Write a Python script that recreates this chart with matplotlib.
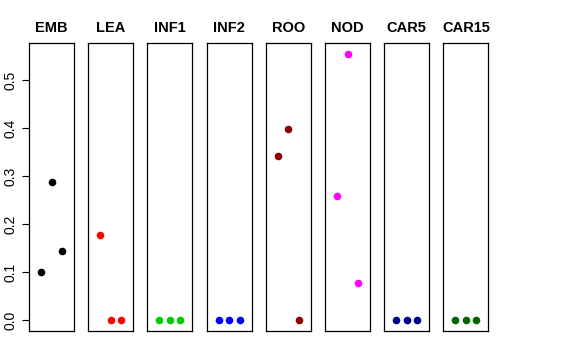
import matplotlib
matplotlib.use("Agg")
import matplotlib.pyplot as plt

plt.rcParams['font.family'] = ['Liberation Sans', 'DejaVu Sans']

tissues = ['EMB', 'LEA', 'INF1', 'INF2', 'ROO', 'NOD', 'CAR5', 'CAR15']
colors = ['black', 'red', '#00CD00', 'blue', '#8B0000', 'magenta', '#00008B', '#006400']
values = {
    'EMB':   [0.100, 0.287, 0.145],
    'LEA':   [0.177, 0.0, 0.0],
    'INF1':  [0.0, 0.0, 0.0],
    'INF2':  [0.0, 0.0, 0.0],
    'ROO':   [0.343, 0.399, 0.0],
    'NOD':   [0.259, 0.555, 0.077],
    'CAR5':  [0.0, 0.0, 0.0],
    'CAR15': [0.0, 0.0, 0.0],
}
reps = [1, 2, 3]
yticks = [0.0, 0.1, 0.2, 0.3, 0.4, 0.5]

W, H = 576, 360
fig = plt.figure(figsize=(W / 100, H / 100), dpi=100)

left0 = 29
pw = 45
step = 59.2
top = 43
bottom = 331
ymax = 0.555
pad = 0.04 * ymax

for i, (t, c) in enumerate(zip(tissues, colors)):
    x0 = left0 + i * step
    ax = fig.add_axes([x0 / W, (H - bottom) / H, pw / W, (bottom - top) / H])
    ax.scatter(reps, values[t], s=30, color=c, zorder=3, linewidths=0)
    ax.set_xlim(-0.16, 4.16)
    ax.set_ylim(-pad, ymax + pad)
    ax.set_xticks([])
    for sp in ax.spines.values():
        sp.set_linewidth(0.9)
        sp.set_color('black')
    ax.set_title(t, fontsize=10.5, fontweight='bold', pad=8)
    if i == 0:
        ax.set_yticks(yticks)
        ax.set_yticklabels(['%.1f' % v for v in yticks], rotation=90, va='center', fontsize=10)
        ax.tick_params(axis='y', length=5, width=0.8, pad=3)
    else:
        ax.set_yticks([])

fig.savefig('out.png', dpi=100)
